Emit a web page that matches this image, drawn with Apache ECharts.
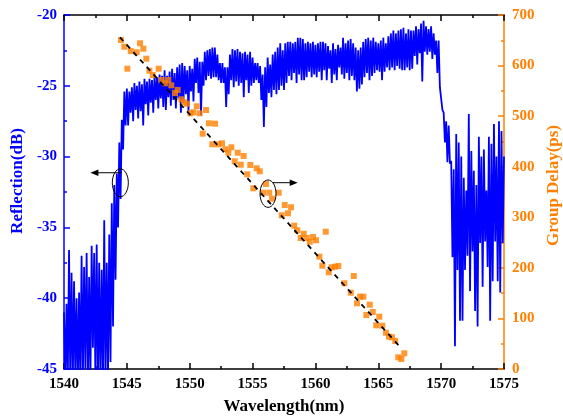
<!DOCTYPE html>
<html>
<head>
<meta charset="utf-8">
<script src="https://cdn.jsdelivr.net/npm/echarts@6/dist/echarts.min.js"></script>
<style>
html,body{margin:0;padding:0;background:#fff;}
#chart{width:563px;height:416px;}
</style>
</head>
<body>
<div id="chart"></div>
<script>
// Reflection spectrum, sampled every 0.1 nm from 1540 nm (alternating upper / lower excursions)
const reflStart = 1540;
const reflStep = 0.1;
const reflection = [
  -41.0,-46,-40.4,-46,-36.6,-46,-38.2,-46,-38.8,-45.5,
  -40.0,-46,-39.6,-46,-37.0,-46,-37.8,-45,-36.8,-46,
  -38.5,-46,-36.3,-43.5,-36.8,-46,-36.2,-46,-37.5,-46,
  -38.0,-46,-34.5,-46,-37.5,-45.5,-35.5,-44.5,-33.3,-42,
  -32.0,-38.7,-31.2,-35,-29.0,-33,-27.4,-29.5,-25.4,-27.8,
  -25.2,-27.8,-25.4,-26.9,-25.1,-27.5,-24.8,-26.7,-25.0,-27.3,
  -24.7,-26.8,-24.9,-27.8,-24.5,-26.3,-24.7,-27.1,-24.5,-26.2,
  -24.6,-26.9,-24.3,-26.0,-24.4,-26.6,-24.2,-25.9,-24.3,-26.5,
  -23.9,-26.7,-24.3,-25.8,-24.0,-26.4,-23.8,-26.0,-24.1,-26.6,
  -23.7,-25.9,-23.5,-26.9,-23.4,-26.2,-23.6,-25.6,-23.9,-26.8,
  -23.6,-25.4,-23.8,-26.1,-23.1,-24.8,-23.0,-25.5,-23.3,-27.1,
  -23.3,-25.0,-22.6,-24.6,-22.5,-24.3,-22.4,-24.5,-22.3,-24.4,
  -22.3,-24.4,-22.8,-24.6,-23.4,-24.8,-23.4,-24.8,-23.7,-26.5,
  -23.7,-25.6,-22.8,-24.6,-22.4,-25.1,-22.5,-24.7,-22.4,-25.0,
  -22.6,-24.8,-22.7,-25.8,-22.6,-24.6,-22.8,-25.5,-22.6,-25.0,
  -23.0,-24.8,-23.4,-24.6,-23.4,-24.8,-23.6,-26.0,-24.2,-27.9,
  -23.7,-26.5,-23.0,-25.5,-23.5,-25.8,-22.8,-25.3,-22.6,-25.6,
  -22.3,-25.3,-22.0,-25.0,-22.5,-25.3,-22.0,-24.8,-21.9,-24.3,
  -21.9,-24.6,-22.0,-24.1,-21.9,-24.8,-21.6,-24.2,-21.6,-24.6,
  -21.7,-24.6,-22.0,-24.4,-21.9,-24.0,-22.0,-24.4,-21.9,-24.2,
  -22.1,-24.4,-22.0,-24.0,-21.9,-24.6,-21.9,-23.9,-22.0,-24.6,
  -22.2,-23.8,-22.5,-24.8,-22.0,-24.2,-22.4,-24.6,-22.1,-23.7,
  -22.3,-24.2,-21.6,-24.5,-22.0,-24.1,-21.8,-24.6,-21.7,-24.3,
  -22.0,-24.6,-22.3,-25.4,-22.5,-25.2,-22.3,-24.9,-21.9,-24.4,
  -21.7,-24.1,-21.6,-24.6,-21.8,-24.3,-21.6,-24.1,-21.9,-23.9,
  -22.0,-24.0,-21.8,-24.6,-21.6,-24.0,-22.0,-23.7,-21.5,-23.9,
  -21.3,-23.7,-21.1,-23.9,-21.3,-23.6,-21.1,-23.8,-21.0,-23.9,
  -20.9,-23.9,-21.3,-23.7,-21.0,-23.9,-21.1,-23.8,-21.1,-22.9,
  -20.8,-23.5,-21.0,-22.7,-20.6,-24.7,-20.4,-22.6,-20.8,-22.8,
  -21.0,-22.6,-20.8,-23.1,-21.3,-22.8,-21.8,-24.1,-21.8,-25.1,
  -25.0,-26.7,-26.9,-29.0,-27.5,-30.4,-27.8,-30.5,-30.3,-37.1,
  -30.9,-43.4,-28.4,-38.0,-29.0,-41.6,-30.0,-41.6,-31.5,-38.0,
  -32.4,-37.0,-27.0,-39.5,-29.6,-36.7,-31.0,-40.9,-32.0,-42.0,
  -28.6,-36.1,-30.0,-39.2,-29.5,-36.0,-32.4,-37.8,-28.6,-41.6,
  -29.1,-38.8,-27.7,-36.0,-30.0,-38.8,-27.5,-39.6,-28.2,-36.1,
  -30.0
];

// Group delay measurement
const gdWavelength = [
  1544.53,1544.80,1545.04,1545.31,1545.78,1546.05,1546.31,1546.55,1546.79,1547.06,
  1547.53,1547.77,1548.03,1548.30,1548.54,1548.83,1549.04,1549.33,1549.55,1549.78,
  1550.05,1550.29,1550.56,1550.79,1551.03,1551.30,1551.53,1551.80,1552.01,1552.27,
  1552.57,1552.83,1553.07,1553.31,1553.58,1553.82,1554.06,1554.29,1554.58,1554.82,
  1555.06,1555.33,1555.57,1555.83,1556.07,1556.33,1556.55,1557.08,1557.32,1557.56,
  1557.82,1558.06,1558.32,1558.56,1558.83,1559.07,1559.31,1559.55,1559.81,1560.05,
  1560.31,1560.55,1560.82,1561.06,1561.30,1561.56,1561.82,1562.30,1562.81,1563.05,
  1563.31,1563.55,1563.81,1564.05,1564.32,1564.56,1564.84,1565.08,1565.32,1565.61,
  1565.85,1566.09,1566.35,1566.59,1566.83,1567.07
];
const gdDelay = [
  650.6,637.3,593.8,628.8,626.3,644.1,633.4,613.6,589.9,581.4,
  593.8,571.5,565.0,571.5,561.0,545.8,551.7,533.3,527.4,524.6,
  505.6,507.6,519.5,505.6,465.3,512.2,485.9,444.3,485.1,444.3,
  446.3,434.5,427.7,438.4,410.7,427.7,404.0,421.2,385.0,403.4,
  357.3,396.9,390.9,348.6,365.8,348.6,336.8,348.6,303.9,324.3,
  307.9,319.8,283.4,274.3,259.0,267.5,259.0,251.7,261.0,254.5,
  222.1,204.3,271.5,191.2,201.1,202.3,203.7,169.5,150.9,183.9,
  129.9,143.0,143.0,106.8,127.1,112.7,86.4,103.4,85.6,71.8,
  63.9,62.7,55.4,23.1,19.8,31.0
];

// Linear fit of group delay
const fitWavelength = [1544.45, 1566.83];
const fitDelay = [655.9, 40.9];

// Axis ticks
const xTicks = {min: 1540, max: 1575, interval: 5};
const yLeftTicks = {min: -45, max: -20, interval: 5};
const yRightTicks = {min: 0, max: 700, interval: 100};

// Annotation anchors (data coordinates)
const ellipse1 = {x: 1544.48, y: -31.85};           // left axis
const arrow1 = {x1: 1544.6, x2: 1542.1, y: -31.14}; // left axis
const ellipse2 = {x: 1556.23, y: 346.7};            // right axis
const arrow2 = {x1: 1556.6, x2: 1558.59, y: 368.4}; // right axis

const BLUE = '#0000FF';
const ORANGE = '#FF8000';
const FONT = '"Liberation Serif", "Times New Roman", serif';

const reflData = reflection.map((v, i) => [+(reflStart + i * reflStep).toFixed(2), v]);
const gdData = gdWavelength.map((w, i) => [w, gdDelay[i]]);
const fitData = fitWavelength.map((w, i) => [w, fitDelay[i]]);

const chart = echarts.init(document.getElementById('chart'), null, {renderer: 'canvas'});

function tickAxis(color) {
  return {
    axisLine: {show: true, onZero: false, lineStyle: {color: color, width: 1.5}},
    axisTick: {show: true, inside: true, length: 6, lineStyle: {color: color, width: 1.5}},
    minorTick: {show: true, splitNumber: 2, length: 3, lineStyle: {color: color, width: 1.5}},
    splitLine: {show: false},
    minorSplitLine: {show: false}
  };
}

const option = {
  animation: false,
  backgroundColor: '#fff',
  grid: {left: 64, right: 59, top: 15, bottom: 47, containLabel: false, outerBoundsMode: 'none'},
  xAxis: [
    Object.assign({
      type: 'value', position: 'bottom',
      min: xTicks.min, max: xTicks.max, interval: xTicks.interval,
      axisLabel: {color: '#000', fontFamily: FONT, fontWeight: 'bold', fontSize: 15, margin: 8,
                  formatter: v => String(v)},
      name: 'Wavelength(nm)', nameLocation: 'middle', nameGap: 29,
      nameTextStyle: {color: '#000', fontFamily: FONT, fontWeight: 'bold', fontSize: 17}
    }, tickAxis('#000')),
    Object.assign({
      type: 'value', position: 'top',
      min: xTicks.min, max: xTicks.max, interval: xTicks.interval,
      axisLabel: {show: false}
    }, tickAxis('#000'))
  ],
  yAxis: [
    Object.assign({
      type: 'value', position: 'left',
      min: yLeftTicks.min, max: yLeftTicks.max, interval: yLeftTicks.interval,
      axisLabel: {color: BLUE, fontFamily: FONT, fontWeight: 'bold', fontSize: 15, margin: 7},
      name: 'Reflection(dB)', nameLocation: 'middle', nameGap: 38,
      nameTextStyle: {color: BLUE, fontFamily: FONT, fontWeight: 'bold', fontSize: 17,
                      padding: [0, 0, 0, 22]}
    }, tickAxis(BLUE)),
    Object.assign({
      type: 'value', position: 'right',
      min: yRightTicks.min, max: yRightTicks.max, interval: yRightTicks.interval,
      axisLabel: {color: ORANGE, fontFamily: FONT, fontWeight: 'bold', fontSize: 15, margin: 8},
      name: 'Group Delay(ps)', nameLocation: 'middle', nameGap: 36,
      nameTextStyle: {color: ORANGE, fontFamily: FONT, fontWeight: 'bold', fontSize: 17,
                      padding: [0, 0, 0, 13]}
    }, tickAxis(ORANGE))
  ],
  series: [
    {
      name: 'Reflection', type: 'line', xAxisIndex: 0, yAxisIndex: 0,
      data: reflData, showSymbol: false, symbol: 'none', clip: true,
      lineStyle: {color: BLUE, width: 1.8, join: 'miter', miterLimit: 4}, z: 2
    },
    {
      name: 'Group Delay', type: 'scatter', xAxisIndex: 0, yAxisIndex: 1,
      data: gdData, symbol: 'rect', symbolSize: 6,
      itemStyle: {color: ORANGE}, z: 3
    },
    {
      name: 'Fit', type: 'line', xAxisIndex: 0, yAxisIndex: 1,
      data: fitData, showSymbol: false, symbol: 'none',
      lineStyle: {color: '#000', width: 1.8, type: [5, 5]}, z: 4
    }
  ]
};
chart.setOption(option);

function px(pt, yIdx) {
  return chart.convertToPixel({xAxisIndex: 0, yAxisIndex: yIdx}, pt);
}
function arrowGraphics(x1, x2, y, yIdx) {
  const a = px([x1, y], yIdx);
  const b = px([x2, y], yIdx);
  const dir = b[0] < a[0] ? -1 : 1;
  const headLen = 8, headW = 3.2;
  return [
    {type: 'line', shape: {x1: a[0], y1: a[1], x2: b[0] - dir * headLen * 0.6, y2: b[1]},
     style: {stroke: '#000', lineWidth: 1}, z: 100},
    {type: 'polygon', shape: {points: [[b[0], b[1]], [b[0] - dir * headLen, b[1] - headW], [b[0] - dir * headLen, b[1] + headW]]},
     style: {fill: '#000'}, z: 100}
  ];
}
const e1 = px([ellipse1.x, ellipse1.y], 0);
const e2 = px([ellipse2.x, ellipse2.y], 1);
chart.setOption({
  graphic: [
    {type: 'ellipse', shape: {cx: e1[0], cy: e1[1], rx: 8, ry: 14}, style: {fill: 'none', stroke: '#000', lineWidth: 1}, z: 100},
    {type: 'ellipse', shape: {cx: e2[0], cy: e2[1], rx: 8, ry: 13.7}, style: {fill: 'none', stroke: '#000', lineWidth: 1}, z: 100}
  ].concat(arrowGraphics(arrow1.x1, arrow1.x2, arrow1.y, 0))
   .concat(arrowGraphics(arrow2.x1, arrow2.x2, arrow2.y, 1))
});
</script>
</body>
</html>
